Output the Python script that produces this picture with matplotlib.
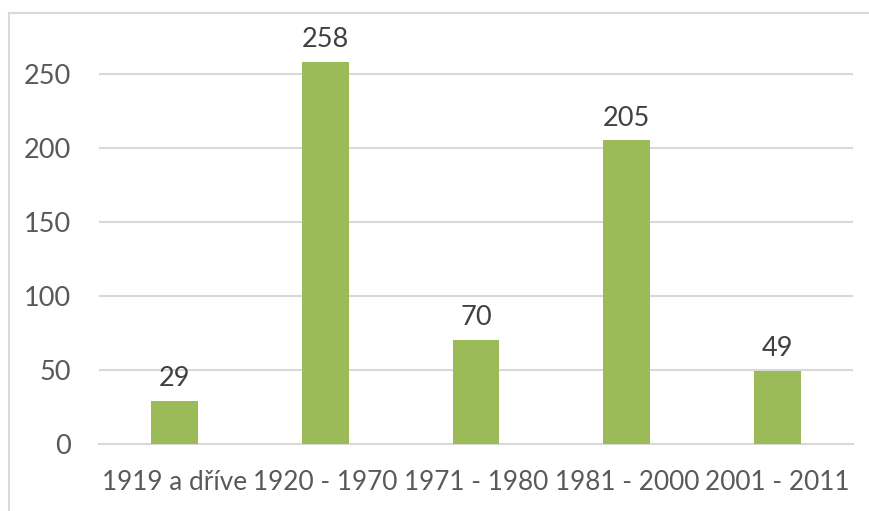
import matplotlib.pyplot as plt
from matplotlib.lines import Line2D

# Data
CATEGORIES = ["1919 a dříve", "1920 - 1970", "1971 - 1980", "1981 - 2000", "2001 - 2011"]
VALUES = [29, 258, 70, 205, 49]
Y_TICKS = [0, 50, 100, 150, 200, 250]

BAR_COLOR = "#9BBB59"
GRID_COLOR = "#D9D9D9"
TICK_COLOR = "#595959"
LABEL_COLOR = "#404040"
W, H = 870, 511

plt.rcParams['font.family'] = ['Lato', 'DejaVu Sans']

fig = plt.figure(figsize=(W / 100, H / 100), dpi=100)
# axes in pixel coordinates: x 99..853, y(0)=443.7, top at 20
left, right, bottom, top = 99, 853, 443.7, 20
ax = fig.add_axes([left / W, 1 - bottom / H, (right - left) / W, (bottom - top) / H])

x = range(len(CATEGORIES))
bars = ax.bar(x, VALUES, width=0.31, color=BAR_COLOR, zorder=3)
for b, v in zip(bars, VALUES):
    ax.annotate(str(v), (b.get_x() + b.get_width() / 2, v), xytext=(0, 7),
                textcoords="offset points", ha="center", va="bottom",
                fontsize=19.5, color=LABEL_COLOR)

ax.set_xlim(-0.5, len(CATEGORIES) - 0.5)
ax.set_ylim(0, (bottom - top) / 1.48)
ax.set_yticks(Y_TICKS)
ax.set_xticks(list(x))
ax.set_xticklabels(CATEGORIES)
ax.yaxis.grid(True, color=GRID_COLOR, linewidth=1.5, zorder=0)
ax.tick_params(axis="both", length=0, colors=TICK_COLOR)
ax.tick_params(axis="y", pad=20, labelsize=19.5)
ax.tick_params(axis="x", pad=19, labelsize=18.8)
for s in ["top", "right", "left"]:
    ax.spines[s].set_visible(False)
ax.spines["bottom"].set_color(GRID_COLOR)
ax.spines["bottom"].set_linewidth(1.5)

# chart area border (only top and left visible in the crop)
fig.add_artist(Line2D([9 / W, 9 / W], [0, 1 - 13 / H], color=GRID_COLOR, linewidth=1.5))
fig.add_artist(Line2D([9 / W, 1], [1 - 13 / H, 1 - 13 / H], color=GRID_COLOR, linewidth=1.5))

fig.savefig("out.png", dpi=100)
